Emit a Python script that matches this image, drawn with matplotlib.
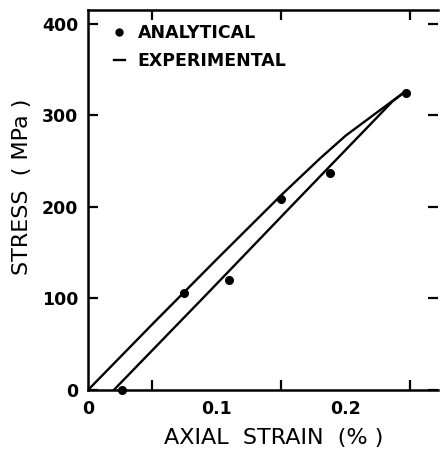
import matplotlib
matplotlib.use("Agg")
import matplotlib.pyplot as plt
from matplotlib.lines import Line2D
from matplotlib.ticker import FixedLocator

# Experimental loading (upper) branch
exp_load_strain = [0.0, 0.05, 0.10, 0.15, 0.18, 0.20, 0.246]
exp_load_stress = [0, 72, 143, 213, 253, 278, 326]
# Experimental unloading (lower) branch
exp_unload_strain = [0.020, 0.093, 0.164, 0.236, 0.246]
exp_unload_stress = [0, 106, 210, 315, 326]
# Analytical points
ana_strain = [0.026, 0.0745, 0.109, 0.150, 0.1876, 0.247]
ana_stress = [0, 106, 120, 209, 237, 324]

xticks = [0, 0.1, 0.2]
xtick_labels = ["0", "0.1", "0.2"]
yticks = [0, 100, 200, 300, 400]

plt.rcParams['font.family'] = ['DejaVu Sans']

fig = plt.figure(figsize=(4.4, 4.5), dpi=100)
ax = fig.add_axes([0.2, 0.1333, 0.795, 0.8444])

ax.plot(exp_load_strain, exp_load_stress, color='black', lw=1.7)
ax.plot(exp_unload_strain, exp_unload_stress, color='black', lw=1.7)
ax.plot(ana_strain, ana_stress, 'o', color='black', ms=5.5, clip_on=False, zorder=5)

ax.set_xlim(0, 0.2713)
ax.set_ylim(0, 415)

ax.set_xticks(xticks)
ax.set_xticklabels(xtick_labels, fontweight='bold')
ax.xaxis.set_minor_locator(FixedLocator([0.05, 0.15, 0.25]))
ax.set_yticks(yticks)
ax.set_yticklabels([str(v) for v in yticks], fontweight='bold')

ax.tick_params(axis='both', which='both', direction='in', top=True, right=True,
               width=1.6, length=7, labelsize=12.5, pad=7)
ax.tick_params(axis='x', which='minor', length=7)
ax.tick_params(axis='x', which='major', length=0)
for s in ['left', 'bottom', 'top']:
    ax.spines[s].set_linewidth(1.8)
ax.spines['right'].set_visible(False)

ax.set_xlabel('AXIAL  STRAIN  (% )', fontsize=16)
ax.set_ylabel('STRESS  ( MPa )', fontsize=16)
ax.xaxis.set_label_coords(0.531, -0.10)
ax.yaxis.set_label_coords(-0.16, 0.534)

handles = [Line2D([], [], marker='o', ls='none', color='black', ms=5),
           Line2D([], [], ls='-', color='black', lw=1.7)]
leg = ax.legend(handles, ['ANALYTICAL', 'EXPERIMENTAL'], loc='upper left',
                frameon=False, handlelength=0.6, handletextpad=0.75,
                prop={'size': 12.5, 'weight': 'bold'},
                bbox_to_anchor=(0.04, 0.995), borderaxespad=0.3,
                labelspacing=0.55)

fig.savefig('out.png', dpi=100)
